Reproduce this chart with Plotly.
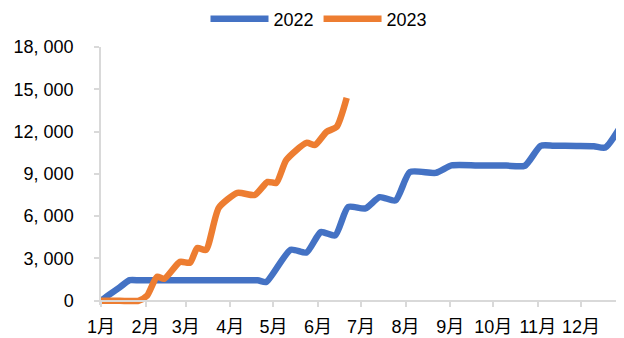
import plotly.graph_objects as go

# month-day of each reading; both years are drawn on a common 2022 calendar
dates_2022 = ["01-01", "01-07", "01-14", "01-21", "01-28", "02-20", "03-25", "04-20",
              "04-26", "05-13", "05-24", "06-03", "06-13", "06-22", "07-04", "07-14",
              "07-25", "08-04", "08-22", "09-02", "09-20", "10-10", "10-23", "11-03",
              "11-12", "11-28", "12-10", "12-18", "12-28"]
values_2022 = [0, 450, 950, 1460, 1450, 1450, 1450, 1450,
               1330, 3620, 3420, 4870, 4640, 6650, 6550, 7350,
               7120, 9130, 9070, 9600, 9600, 9590, 9580, 10990,
               11000, 10980, 10960, 10870, 12250]

dates_2023 = ["01-01", "01-14", "01-27", "02-02", "02-09", "02-14", "02-25", "03-04",
              "03-09", "03-15", "03-24", "04-06", "04-18", "04-27", "05-03", "05-10",
              "05-24", "05-30", "06-07", "06-14", "06-21"]
values_2023 = [0, 0, 0, 350, 1700, 1560, 2760, 2700,
               3750, 3600, 6600, 7650, 7500, 8430, 8360, 9990,
               11200, 11050, 11980, 12330, 14390]

month_ticks = ["01-01", "02-01", "03-01", "04-01", "05-01", "06-01",
               "07-01", "08-01", "09-01", "10-01", "11-01", "12-01"]
month_labels = ["1月", "2月", "3月", "4月", "5月", "6月",
                "7月", "8月", "9月", "10月", "11月", "12月"]

y_ticks = [0, 3000, 6000, 9000, 12000, 15000, 18000]
y_labels = ["0", "3, 000", "6, 000", "9, 000", "12, 000", "15, 000", "18, 000"]

BLUE = "#4472C4"
ORANGE = "#ED7D31"
AXIS = "#D9D9D9"
FONT = "Liberation Sans, Arial, Noto Sans CJK SC"


def on_2022(md):
    return "2022-" + md


line_style = dict(width=6.5, shape="spline", smoothing=0.6)

fig = go.Figure()
fig.add_trace(go.Scatter(x=[on_2022(d) for d in dates_2022], y=values_2022, name="2022",
                         mode="lines", line=dict(color=BLUE, **line_style)))
fig.add_trace(go.Scatter(x=[on_2022(d) for d in dates_2023], y=values_2023, name="2023",
                         mode="lines", line=dict(color=ORANGE, **line_style)))

# the page body keeps its default 8px margin, so the figure is 8px smaller
# than the window and everything is placed 8px up/left
W, H, PAD = 616, 330, 8

# y range dips a little below zero so the thick lines at 0 are not clipped;
# the x axis is then pinned at y = 0
y_lo, y_hi = -300, 18000
top, zero_px = 47 - PAD, 301 - PAD
plot_h = (zero_px - top) * (y_hi - y_lo) / y_hi
bottom = H - top - plot_h

fig.update_layout(
    width=W, height=H,
    margin=dict(l=101 - PAD, r=0, t=top, b=bottom, autoexpand=False),
    paper_bgcolor="white", plot_bgcolor="white",
    font=dict(family=FONT, size=18, color="black"),
    showlegend=True,
    legend=dict(orientation="h", xref="container", yref="container",
                x=(319 - PAD) / W, xanchor="center", y=1 - (19 - PAD) / H, yanchor="middle",
                itemwidth=58, font=dict(size=18)),
    xaxis=dict(type="date", range=["2022-01-01", "2022-12-31"],
               tickvals=[on_2022(d) for d in month_ticks], ticktext=month_labels,
               showline=True, linecolor=AXIS, linewidth=1.5,
               ticks="outside", tickcolor=AXIS, ticklen=5, tickwidth=1.5,
               showgrid=False, zeroline=False, automargin=False,
               tickfont=dict(size=18), ticklabelstandoff=5,
               anchor="free", position=-y_lo / (y_hi - y_lo)),
    yaxis=dict(range=[y_lo, y_hi], tickvals=y_ticks, ticktext=y_labels,
               showline=True, linecolor=AXIS, linewidth=1.5,
               ticks="outside", tickcolor=AXIS, ticklen=5, tickwidth=1.5,
               showgrid=False, zeroline=False, automargin=False,
               ticklabelstandoff=17),
)

fig.write_html("out.html")
